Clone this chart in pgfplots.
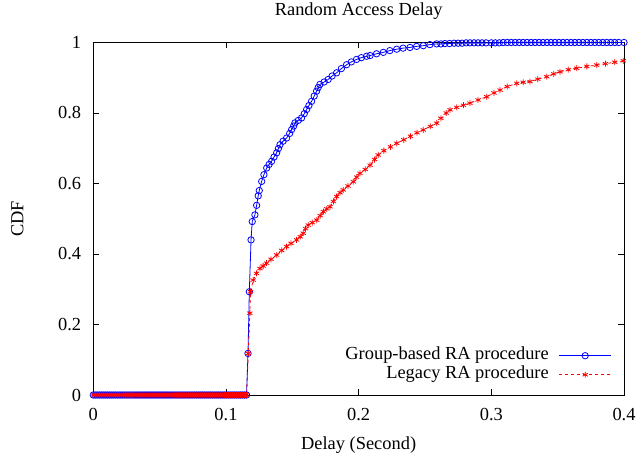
\documentclass[border=0pt]{standalone}
\usepackage{fontspec}
\setmainfont{Liberation Serif}
\usepackage{pgfplots}
\pgfplotsset{compat=1.18}
\usepackage{pgfplotstable}

% CDF of random access delay
\pgfplotstableread{
x y
0.000 0
0.0015 0
0.003 0
0.0045 0
0.006 0
0.0075 0
0.009 0
0.0105 0
0.012 0
0.0135 0
0.015 0
0.0165 0
0.018 0
0.0195 0
0.021 0
0.0225 0
0.024 0
0.0255 0
0.027 0
0.0285 0
0.030 0
0.0315 0
0.033 0
0.0345 0
0.036 0
0.0375 0
0.039 0
0.0405 0
0.042 0
0.0435 0
0.045 0
0.0465 0
0.048 0
0.0495 0
0.051 0
0.0525 0
0.054 0
0.0555 0
0.057 0
0.0585 0
0.060 0
0.0615 0
0.063 0
0.0645 0
0.066 0
0.0675 0
0.069 0
0.0705 0
0.072 0
0.0735 0
0.075 0
0.0765 0
0.078 0
0.0795 0
0.081 0
0.0825 0
0.084 0
0.0855 0
0.087 0
0.0885 0
0.090 0
0.0915 0
0.093 0
0.0945 0
0.096 0
0.0975 0
0.099 0
0.1005 0
0.102 0
0.1035 0
0.105 0
0.1065 0
0.108 0
0.1095 0
0.111 0
0.1125 0
0.114 0
0.1155 0
0.1166 0.118
0.1176 0.293
0.1189 0.440
0.1198 0.492
0.1218 0.511
0.1231 0.538
0.1243 0.565
0.1251 0.580
0.1269 0.606
0.1286 0.625
0.1307 0.644
0.1325 0.654
0.1344 0.663
0.1362 0.675
0.1382 0.687
0.1395 0.699
0.1407 0.710
0.1430 0.720
0.1457 0.729
0.1480 0.742
0.1495 0.753
0.1510 0.763
0.1520 0.772
0.1545 0.779
0.1570 0.786
0.1590 0.798
0.1608 0.810
0.1625 0.821
0.1645 0.833
0.1665 0.848
0.1683 0.862
0.1695 0.872
0.1708 0.881
0.1740 0.888
0.1770 0.895
0.1800 0.905
0.1834 0.914
0.1870 0.926
0.1909 0.937
0.1945 0.945
0.1984 0.952
0.2020 0.957
0.2060 0.961
0.2086 0.963
0.2135 0.968
0.2186 0.972
0.2235 0.977
0.2287 0.981
0.2335 0.984
0.2387 0.986
0.2437 0.989
0.2487 0.991
0.2537 0.994
0.2588 0.996
0.2620 0.996
0.2650 0.997
0.2685 0.997
0.2720 0.998
0.2750 0.998
0.2780 0.998
0.2810 0.999
0.2839 0.999
0.2870 0.999
0.2900 0.999
0.2930 0.999
0.2960 0.999
0.3000 0.999
0.3030 0.999
0.3060 0.999
0.3090 1
0.3120 1
0.3150 1
0.3180 1
0.3210 1
0.3240 1
0.3270 1
0.3300 1
0.3330 1
0.3360 1
0.3390 1
0.3420 1
0.3450 1
0.3480 1
0.3510 1
0.3540 1
0.3570 1
0.3600 1
0.3630 1
0.3660 1
0.3690 1
0.3720 1
0.3750 1
0.3780 1
0.3810 1
0.3840 1
0.3870 1
0.3900 1
0.3930 1
0.3960 1
0.4000 1
}\groupbased

\pgfplotstableread{
x y
0.000 0
0.0015 0
0.003 0
0.0045 0
0.006 0
0.0075 0
0.009 0
0.0105 0
0.012 0
0.0135 0
0.015 0
0.0165 0
0.018 0
0.0195 0
0.021 0
0.0225 0
0.024 0
0.0255 0
0.027 0
0.0285 0
0.030 0
0.0315 0
0.033 0
0.0345 0
0.036 0
0.0375 0
0.039 0
0.0405 0
0.042 0
0.0435 0
0.045 0
0.0465 0
0.048 0
0.0495 0
0.051 0
0.0525 0
0.054 0
0.0555 0
0.057 0
0.0585 0
0.060 0
0.0615 0
0.063 0
0.0645 0
0.066 0
0.0675 0
0.069 0
0.0705 0
0.072 0
0.0735 0
0.075 0
0.0765 0
0.078 0
0.0795 0
0.081 0
0.0825 0
0.084 0
0.0855 0
0.087 0
0.0885 0
0.090 0
0.0915 0
0.093 0
0.0945 0
0.096 0
0.0975 0
0.099 0
0.1005 0
0.102 0
0.1035 0
0.105 0
0.1065 0
0.108 0
0.1095 0
0.111 0
0.1125 0
0.114 0
0.1155 0
0.1168 0.118
0.1180 0.232
0.1185 0.293
0.1205 0.326
0.1230 0.345
0.1256 0.359
0.1280 0.366
0.1306 0.374
0.1340 0.385
0.1382 0.397
0.1420 0.410
0.1457 0.421
0.1490 0.430
0.1532 0.440
0.1560 0.449
0.1582 0.459
0.1600 0.472
0.1620 0.482
0.1650 0.489
0.1684 0.496
0.1710 0.509
0.1734 0.520
0.1760 0.528
0.1784 0.534
0.1810 0.549
0.1834 0.563
0.1860 0.574
0.1884 0.582
0.1920 0.593
0.1960 0.605
0.1985 0.618
0.2010 0.629
0.2050 0.640
0.2086 0.652
0.2120 0.668
0.2147 0.681
0.2190 0.693
0.2240 0.704
0.2287 0.714
0.2340 0.724
0.2390 0.734
0.2440 0.744
0.2487 0.752
0.2540 0.762
0.2588 0.771
0.2620 0.785
0.2660 0.800
0.2689 0.809
0.2740 0.816
0.2790 0.822
0.2839 0.828
0.2900 0.837
0.2965 0.846
0.3020 0.857
0.3066 0.865
0.3120 0.875
0.3191 0.884
0.3240 0.887
0.3292 0.889
0.3350 0.896
0.3418 0.903
0.3470 0.911
0.3518 0.917
0.3580 0.923
0.3644 0.927
0.3720 0.932
0.3794 0.936
0.3860 0.940
0.3930 0.944
0.3995 0.948
}\legacy

\begin{document}
\begin{tikzpicture}
\begin{axis}[
    at={(0,0)}, anchor=south west,
    scale only axis,
    width=530.7bp, height=352.5bp,
    xmin=0, xmax=0.4, ymin=0, ymax=1,
    enlargelimits=false,
    clip=false,
    font=\fontsize{18.4bp}{22bp}\selectfont,
    /pgf/number format/assume math mode=true,
    xtick={0,0.1,0.2,0.3,0.4},
    ytick={0,0.2,0.4,0.6,0.8,1},
    tick align=inside,
    major tick length=6bp,
    axis line style={line width=0.9bp},
    tick style={line width=0.9bp, black},
    xticklabel style={anchor=base, inner sep=0pt, yshift=-25.7bp},
    yticklabel style={anchor=east, inner sep=0pt, xshift=-12bp},
    title={Random Access Delay},
    title style={at={(axis description cs:0.5,1)}, anchor=base, inner sep=0pt, yshift=20.8bp},
    xlabel={Delay (Second)},
    xlabel style={at={(axis description cs:0.5,0)}, anchor=base, inner sep=0pt, yshift=-54bp},
    ylabel={CDF},
    ylabel style={at={(axis description cs:0,0.5)}, anchor=center, inner sep=0pt, yshift=76bp},
    legend plot pos=right,
    legend cell align=right,
    legend image code/.code={%
        \draw[mark repeat=2, mark phase=2, #1] plot coordinates {(0bp,0bp) (26bp,0bp) (52bp,0bp)};},
    legend style={draw=none, fill=none, inner sep=0pt,
        at={(axis description cs:0.977,0.03)}, anchor=south east,
        nodes={inner sep=0pt, text height=13bp, text depth=6bp},
        /tikz/every odd column/.append style={column sep=10bp}},
]
\addplot[blue, line width=0.8bp, mark=o, mark size=3.2bp,
    mark options={solid, line width=0.8bp}] table[x=x, y=y] {\groupbased};
\addlegendentry{Group-based RA procedure}
\addplot[red, line width=0.8bp, dashed, mark=asterisk, mark size=3bp,
    mark options={solid, line width=0.8bp}] table[x=x, y=y] {\legacy};
\addlegendentry{Legacy RA procedure}
\end{axis}
\pgfresetboundingbox
\path (-93.3bp,-61bp) rectangle (543.7bp,395bp);
\end{tikzpicture}
\end{document}
